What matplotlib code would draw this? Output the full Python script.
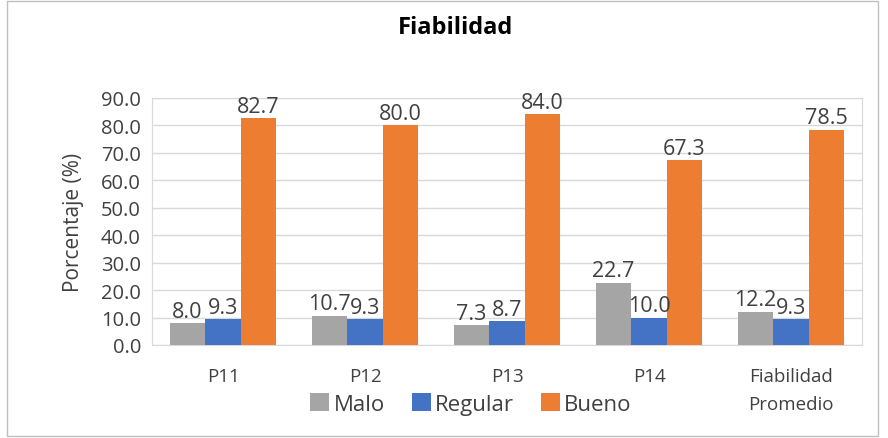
import matplotlib
matplotlib.use("Agg")
import matplotlib.pyplot as plt
import numpy as np
from matplotlib.patches import Rectangle

categories = ["P11", "P12", "P13", "P14", "Fiabilidad\nPromedio"]
series_names = ["Malo", "Regular", "Bueno"]
malo = [8.0, 10.7, 7.3, 22.7, 12.2]
regular = [9.3, 9.3, 8.7, 10.0, 9.3]
bueno = [82.7, 80.0, 84.0, 67.3, 78.5]
colors = ["#A5A5A5", "#4472C4", "#ED7D31"]
yticks = [0, 10, 20, 30, 40, 50, 60, 70, 80, 90]

plt.rcParams['font.family'] = ['Open Sans', 'DejaVu Sans']

fig = plt.figure(figsize=(8.88, 4.39), dpi=100)
ax = fig.add_axes([152/888, 1-346/439, 710/888, 247/439])

x = np.arange(len(categories))
w = 0.25
for i, (vals, name, c) in enumerate(zip([malo, regular, bueno], series_names, colors)):
    bars = ax.bar(x + (i-1)*w, vals, w, color=c, label=name, zorder=3)
    for b, v in zip(bars, vals):
        ax.text(b.get_x()+b.get_width()/2, v + 0.5, f"{v:.1f}", ha='center', va='bottom',
                fontsize=15.5, color='#404040', zorder=4)

ax.set_xlim(-0.5, len(categories)-0.5)
ax.set_ylim(0, 90)
ax.set_yticks(yticks)
ax.set_yticklabels([f"{t:.1f}" for t in yticks], fontsize=14.5, color='#404040')
ax.set_xticks(x)
ax.set_xticklabels(categories, fontsize=13.5, color='#404040', linespacing=1.7, va='top')
ax.tick_params(axis='both', length=0)
ax.tick_params(axis='x', pad=16)
ax.tick_params(axis='y', pad=8)
ax.yaxis.grid(True, color='#D9D9D9', linewidth=1, zorder=0)
for s in ax.spines.values():
    s.set_color('#D9D9D9')
ax.set_ylabel("Porcentaje (%)", fontsize=15, color='#404040', labelpad=12)

fig.text(455/888, 1-28/439, "Fiabilidad", ha='center', va='center', fontsize=17, fontweight='bold', color='#000000')

leg = fig.legend(loc='center', bbox_to_anchor=(471/888, 1-405/439), ncol=3, frameon=False,
                 fontsize=16, handlelength=0.85, handleheight=0.85, handletextpad=0.2,
                 columnspacing=1.2, labelcolor='#404040')

fig.patches.append(Rectangle((7/888, 2/439), 871/888, 435/439, transform=fig.transFigure,
                             fill=False, edgecolor='#BFBFBF', linewidth=1))

fig.savefig("out.png", dpi=100)
